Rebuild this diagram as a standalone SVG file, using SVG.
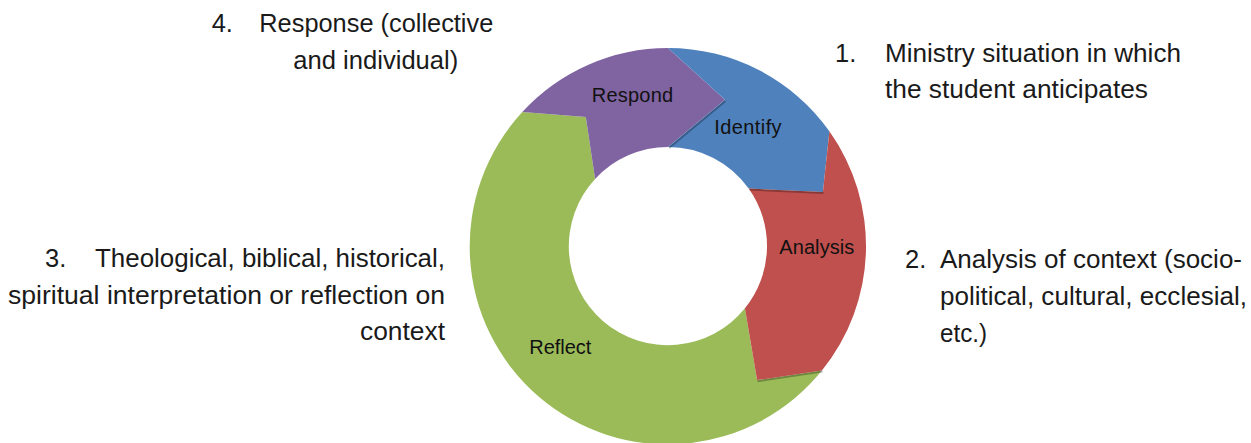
<svg xmlns="http://www.w3.org/2000/svg" width="1251" height="443" viewBox="0 0 1251 443">
<style>
.lbl{font-family:"Liberation Sans",Arial,sans-serif;font-size:25.5px;fill:#1a1a1a}
.seg{font-family:"Liberation Sans",Arial,sans-serif;font-size:20px;fill:#111}
.shadow{fill:none;stroke:#000;stroke-opacity:0.28;stroke-width:2}
</style>
<rect width="1251" height="443" fill="#fff"/>
<g id="node-reflect">
<path d="M821.9,370.6 A198,198 0 1 1 522.3,112.0 L585.8,117.0 L595.1,179.0 A99,99 0 1 0 744.9,308.3 L757.1,380.1 Z" fill="#9BBB59"/>
<text class="seg" x="529.3" y="353.5" textLength="62">Reflect</text>
</g>
<g id="node-respond">
<path d="M522.3,112.0 A198,198 0 0 1 668,48 L725.0,99.7 L668,147 A99,99 0 0 0 595.1,179.0 L585.8,117.0 Z" fill="#8064A2"/>
<text class="seg" x="591.7" y="101.7" textLength="81.5">Respond</text>
</g>
<g id="node-identify">
<path d="M668,48 A198,198 0 0 1 829.4,131.3 L822.9,192.1 L748.7,188.6 A99,99 0 0 0 668,147 L725.0,99.7 Z" fill="#4F81BD"/>
<polyline class="shadow" points="725.5,101 669,148"/>
<text class="seg" x="714.3" y="134" textLength="67.3">Identify</text>
</g>
<g id="node-analysis">
<path d="M829.4,131.3 A198,198 0 0 1 821.9,370.6 L757.1,380.1 L744.9,308.3 A99,99 0 0 0 748.7,188.6 L822.9,192.1 Z" fill="#C0504D"/>
<polyline class="shadow" points="823.5,193 749.5,189.6"/>
<polyline class="shadow" points="757.5,381.2 822.5,371.6" stroke-opacity="0.25"/>
<text class="seg" x="779.3" y="254" textLength="75">Analysis</text>
</g>
<g id="connectors"></g>
<g id="note-4">
<text class="lbl" x="211.7" y="32">4.</text>
<text class="lbl" x="259.3" y="32" textLength="234" lengthAdjust="spacingAndGlyphs">Response (collective</text>
<text class="lbl" x="293.3" y="68.5" textLength="165" lengthAdjust="spacingAndGlyphs">and individual)</text>
</g>
<g id="note-1">
<text class="lbl" x="835" y="62">1.</text>
<text class="lbl" x="885" y="62" textLength="296" lengthAdjust="spacingAndGlyphs">Ministry situation in which</text>
<text class="lbl" x="885" y="97.5" textLength="263" lengthAdjust="spacingAndGlyphs">the student anticipates</text>
</g>
<g id="note-3">
<text class="lbl" x="45" y="266.7">3.</text>
<text class="lbl" x="95" y="266.7" textLength="350" lengthAdjust="spacingAndGlyphs">Theological, biblical, historical,</text>
<text class="lbl" x="8" y="303.5" textLength="437" lengthAdjust="spacingAndGlyphs">spiritual interpretation or reflection on</text>
<text class="lbl" x="360" y="340" textLength="85" lengthAdjust="spacingAndGlyphs">context</text>
</g>
<g id="note-2">
<text class="lbl" x="905" y="268.3">2.</text>
<text class="lbl" x="940" y="268.3" textLength="302" lengthAdjust="spacingAndGlyphs">Analysis of context (socio-</text>
<text class="lbl" x="940" y="305" textLength="307" lengthAdjust="spacingAndGlyphs">political, cultural, ecclesial,</text>
<text class="lbl" x="940" y="341.7" textLength="47" lengthAdjust="spacingAndGlyphs">etc.)</text>
</g>
</svg>
